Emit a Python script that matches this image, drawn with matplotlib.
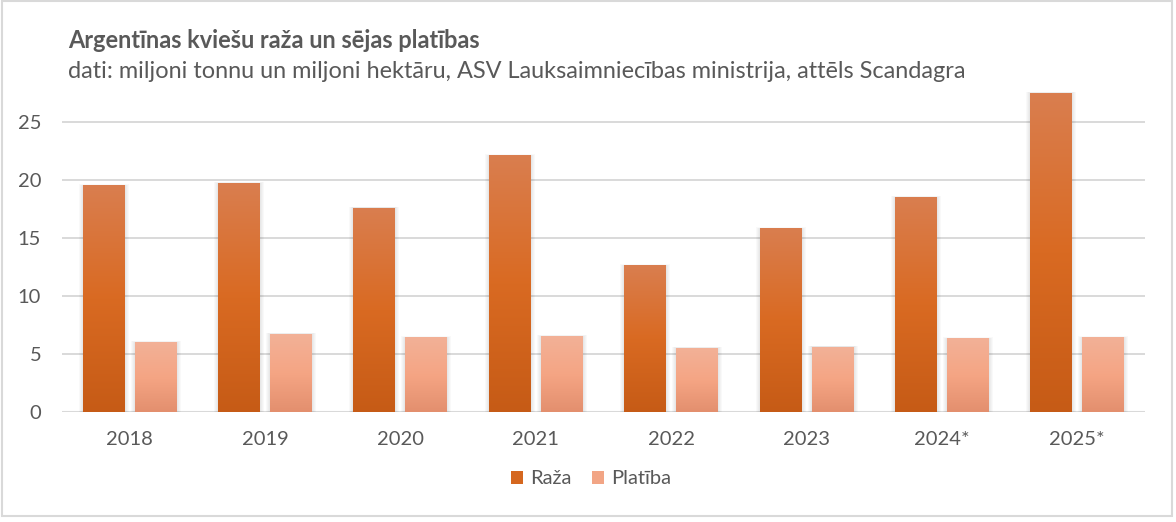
import numpy as np
import matplotlib
matplotlib.use("Agg")
import matplotlib.pyplot as plt
from matplotlib.colors import LinearSegmentedColormap
from matplotlib.patches import Rectangle

years = ["2018", "2019", "2020", "2021", "2022", "2023", "2024*", "2025*"]
raza = [19.5, 19.7, 17.6, 22.1, 12.6, 15.8, 18.5, 27.5]
platiba = [6.0, 6.7, 6.4, 6.5, 5.5, 5.6, 6.3, 6.4]
series_names = ["Raža", "Platība"]
yticks = [0, 5, 10, 15, 20, 25]

title = "Argentīnas kviešu raža un sējas platības"
subtitle = "dati: miljoni tonnu un miljoni hektāru, ASV Lauksaimniecības ministrija, attēls Scandagra"

TXT = "#595959"
GRID = "#D9D9D9"
FONT = ["Lato", "DejaVu Sans"]
plt.rcParams["font.family"] = FONT

W, H = 1176, 522
fig = plt.figure(figsize=(W / 100, H / 100), dpi=100)
ax = fig.add_axes([62 / W, 1 - 411.7 / H, (1145 - 62) / W, (411.7 - 64) / H])

x = np.arange(len(years))
bw = 0.31
off = 0.192
grad_raza = ["#C65B16", "#D96A22", "#DA7E4F"]
grad_plat = ["#E38F6E", "#F5A584", "#F2B197"]

px_x = 1 / 135.4
px_y = 30 / (411.7 - 64)

def draw(series, dx, cols):
    bars = ax.bar(x + dx, series, width=bw, color="none", edgecolor="none", zorder=3)
    cmap = LinearSegmentedColormap.from_list("g", cols)
    grad = np.linspace(0, 1, 256).reshape(-1, 1)
    for r in bars:
        x0, y0, w, h = r.get_x(), r.get_y(), r.get_width(), r.get_height()
        for k in (4, 3, 2, 1):
            ax.add_patch(Rectangle((x0 - k * px_x, y0), w + 2 * k * px_x, h + k * px_y * 0.3,
                                   facecolor="black", edgecolor="none", alpha=0.025, zorder=2.5))
        ax.imshow(grad, cmap=cmap, extent=[x0, x0 + w, y0, y0 + h], origin="lower",
                  aspect="auto", zorder=3, interpolation="bilinear")
    return bars

draw(raza, -off, grad_raza)
draw(platiba, off, grad_plat)

ax.set_xlim(-0.5, len(years) - 0.5)
ax.set_ylim(0, 30)
ax.set_yticks(yticks)
ax.set_xticks(x)
ax.set_xticklabels(years)
ax.yaxis.grid(True, color=GRID, linewidth=1.4, zorder=0)
ax.set_axisbelow(True)
for s in ["top", "right", "left", "bottom"]:
    ax.spines[s].set_visible(False)
ax.axhline(0, color=GRID, linewidth=1.5, zorder=1)
ax.tick_params(axis="both", length=0, colors=TXT, labelsize=14.5)
ax.tick_params(axis="y", pad=15)
ax.tick_params(axis="x", pad=14)

# legend
handles = [Rectangle((0, 0), 1, 1, facecolor="#D5671F", edgecolor="none"),
           Rectangle((0, 0), 1, 1, facecolor="#F2A585", edgecolor="none")]
leg = fig.legend(handles, series_names, loc="center", bbox_to_anchor=(591 / W, 1 - 479 / H),
                 ncol=2, frameon=False, fontsize=14.5, handlelength=0.6, handleheight=0.6,
                 handletextpad=0.35, columnspacing=1.0, labelcolor=TXT)

# titles, sized to match target widths
fig.canvas.draw()
r = fig.canvas.get_renderer()
def fit_text(s, y, target_w, weight, size0):
    t = fig.text(68 / W, y, s, fontsize=size0, fontweight=weight, color=TXT, va="baseline", ha="left")
    bb = t.get_window_extent(renderer=r)
    t.set_fontsize(size0 * target_w / bb.width)
    return t

fit_text(title, 1 - 48 / H, 412, "bold", 13)
fit_text(subtitle, 1 - 78 / H, 899, "normal", 13)

fig.add_artist(Rectangle((2 / W, 1 - 516 / H), 1170 / W, 515 / H, transform=fig.transFigure,
                         facecolor="none", edgecolor=GRID, linewidth=1.5))

fig.savefig("out.png", dpi=100)
